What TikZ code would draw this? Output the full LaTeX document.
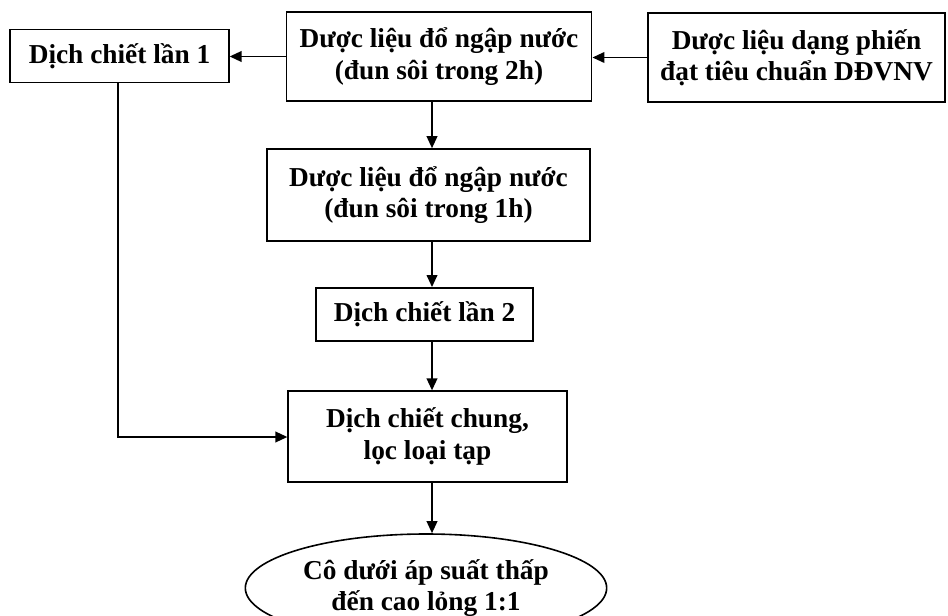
\documentclass[tikz,border=0pt]{standalone}
\usepackage{fontspec}
\setmainfont{Liberation Serif}
\usetikzlibrary{arrows.meta,shapes.geometric}

\begin{document}
\begin{tikzpicture}[x=0.75pt,y=-0.75pt,
    box/.style={draw,line width=1.2pt,align=center,inner sep=0pt,
        font=\fontsize{20.5}{23.5}\selectfont\bfseries},
    oval/.style={box,ellipse},
    arr/.style={line width=1.3pt,-{Triangle[length=9pt,width=8pt]}}]
    \useasboundingbox (0,0) rectangle (948,616);

    \node[box,minimum width=164pt,minimum height=40pt] (lan1) at (119.5,56) {Dịch chiết lần 1};
    \node[box,minimum width=229pt,minimum height=67pt] (ngam2) at (439,56.5) {Dược liệu đổ ngập nước\\(đun sôi trong 2h)};
    \node[box,minimum width=223pt,minimum height=67pt] (phien) at (796.5,57.5) {Dược liệu dạng phiến\\đạt tiêu chuẩn DĐVNV};
    \node[box,minimum width=242pt,minimum height=69pt] (ngam1) at (428.5,195) {Dược liệu đổ ngập nước\\(đun sôi trong 1h)};
    \node[box,minimum width=163pt,minimum height=40pt] (lan2) at (424.5,314.5) {Dịch chiết lần 2};
    \node[box,minimum width=209pt,minimum height=68pt] (chung) at (427.5,436.5) {Dịch chiết chung,\\lọc loại tạp};
    \node[oval,minimum width=271pt,minimum height=81pt] (co) at (426,588) {Cô dưới áp suất thấp\\đến cao lỏng 1:1};

    \coordinate (truc) at (432,0);
    \coordinate (goc) at (118,437);

    \draw[arr] (phien.west) -- (phien.west -| ngam2.east);
    \draw[arr] (ngam2.west) -- (ngam2.west -| lan1.east);
    \draw[arr] (truc |- ngam2.south) -- (truc |- ngam1.north);
    \draw[arr] (truc |- ngam1.south) -- (truc |- lan2.north);
    \draw[arr] (truc |- lan2.south) -- (truc |- chung.north);
    \draw[arr] (truc |- chung.south) -- (truc |- co.north);
    \draw[arr] (goc |- lan1.south) -- (goc) -- (goc -| chung.west);
\end{tikzpicture}
\end{document}
